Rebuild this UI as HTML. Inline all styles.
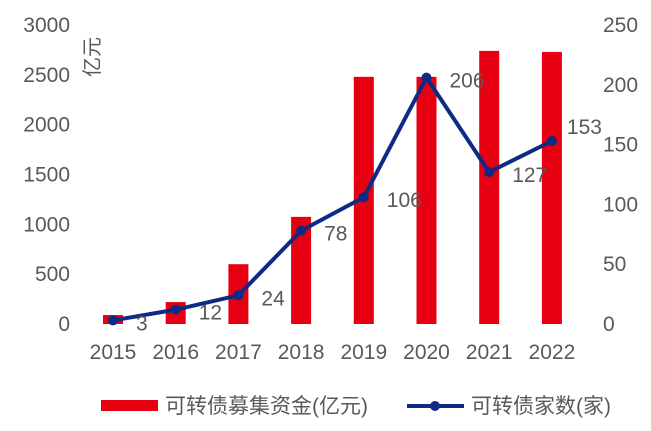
<!DOCTYPE html>
<html><head><meta charset="utf-8"><style>
body{margin:0;background:#fff;}
svg text{font-family:"Liberation Sans","Noto Sans CJK SC",sans-serif;fill:#595959;}
</style></head><body>
<svg id="chart" width="651" height="426" viewBox="0 0 651 426">
<g id="g"></g>
</svg>
<script>
const years=["2015","2016","2017","2018","2019","2020","2021","2022"];
const funds=[90,220,600,1075,2480,2480,2740,2730];
const counts=[3,12,24,78,106,206,127,153];
const leftTicks=[0,500,1000,1500,2000,2500,3000];
const rightTicks=[0,50,100,150,200,250];
const NS="http://www.w3.org/2000/svg";
const g=document.getElementById('g');
const y0=324,yTop=25;
const yL=v=>y0-(v/3000)*(y0-yTop);
const yR=v=>y0-(v/250)*(y0-yTop);
const x=i=>113+i*62.7;
function el(t,a){const e=document.createElementNS(NS,t);for(const k in a)e.setAttribute(k,a[k]);g.appendChild(e);return e;}
leftTicks.forEach(v=>{const t=el('text',{x:70,y:yL(v)+7,'text-anchor':'end','font-size':21});t.textContent=v;

});
rightTicks.forEach(v=>{const t=el('text',{x:603,y:yR(v)+7,'text-anchor':'start','font-size':21});t.textContent=v;

});
years.forEach((yr,i)=>{const t=el('text',{x:x(i),y:359,'text-anchor':'middle','font-size':21});t.textContent=yr;

});
funds.forEach((v,i)=>{const r=el('rect',{x:x(i)-10,y:yL(v),width:20,height:y0-yL(v),fill:'#e60012'});

});
const pts=counts.map((v,i)=>x(i)+','+yR(v)).join(' ');
const pl=el('polyline',{points:pts,fill:'none',stroke:'#0d2b85','stroke-width':4,'stroke-linejoin':'round'});


counts.forEach((v,i)=>{const c=el('circle',{cx:x(i),cy:yR(v),r:5,fill:'#0d2b85'});


const last=i===counts.length-1;
const t=el('text',{x:x(i)+(last?15:23),y:yR(v)+(last?-7:10),'font-size':21});t.textContent=v;

});
const u=el('text',{x:0,y:0,'font-size':20,transform:'translate(99,57) rotate(-90)','text-anchor':'middle'});u.textContent='亿元';


const l1=el('rect',{x:101,y:400,width:57,height:11,fill:'#e60012'});


const t1=el('text',{x:165,y:413,'font-size':21});t1.textContent='可转债募集资金(亿元)';


const l2=el('line',{x1:407,y1:406,x2:464,y2:406,stroke:'#0d2b85','stroke-width':4});


const l3=el('circle',{cx:435,cy:406,r:5,fill:'#0d2b85'});


const t2=el('text',{x:471,y:413,'font-size':21});t2.textContent='可转债家数(家)';


</script>
</body></html>
